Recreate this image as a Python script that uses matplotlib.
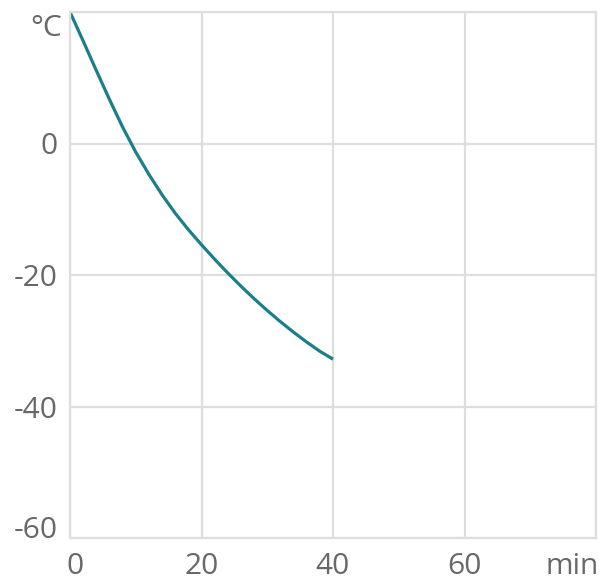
import matplotlib
matplotlib.use("Agg")
import matplotlib.pyplot as plt
from matplotlib.transforms import ScaledTranslation

# cooling curve (time in min, temperature in °C)
time_min = [0, 2, 4, 6, 8, 10, 12, 14, 16, 18, 20, 22, 24, 26, 28, 30, 32, 34, 36, 38, 40]
temp_c = [20, 15.6, 11.1, 6.7, 2.5, -1.3, -4.7, -7.8, -10.6, -13.1, -15.4,
          -17.6, -19.7, -21.7, -23.6, -25.4, -27.1, -28.7, -30.2, -31.6, -32.8]

x_ticks = [0, 20, 40, 60, 80]
x_labels = ["0", "20", "40", "60", "min"]
y_ticks = [-60, -40, -20, 0, 20]
y_labels = ["-60", "-40", "-20", "0", ""]

plt.rcParams["font.family"] = ["Open Sans", "DejaVu Sans"]
grey_txt = "#686868"
grey_grid = "#dedede"

fig = plt.figure(figsize=(5.99, 5.88), dpi=100)
ax = fig.add_axes([70 / 599, 1 - 538 / 588, 526 / 599, 526 / 588])

ax.plot(time_min, temp_c, color="#1a7f88", linewidth=2.3, solid_capstyle="butt")

ax.set_xlim(0, 80)
ax.set_ylim(-60, 20)
ax.set_xticks(x_ticks)
ax.set_xticklabels(x_labels)
ax.set_yticks(y_ticks)
ax.set_yticklabels(y_labels)
ax.tick_params(length=0, labelsize=21.5, colors=grey_txt)
ax.tick_params(axis="y", pad=9)
ax.tick_params(axis="x", pad=10)

# nudge a few labels the way the original has them
def nudge(lbl, dx_px, dy_px):
    lbl.set_transform(lbl.get_transform() +
                      ScaledTranslation(dx_px / 100, dy_px / 100, fig.dpi_scale_trans))

xl = ax.get_xticklabels()
nudge(xl[0], 5, 0)
nudge(xl[-1], -24, 0)
nudge(ax.get_yticklabels()[0], 0, 11)

ax.grid(True, color=grey_grid, linewidth=1.6)
ax.set_axisbelow(True)
for s in ax.spines.values():
    s.set_color(grey_grid)
    s.set_linewidth(1.6)

ax.text(-0.015, 0.968, "°C", transform=ax.transAxes, ha="right", va="center",
        fontsize=21.5, color=grey_txt)

fig.savefig("out.png", dpi=100, facecolor="white")
